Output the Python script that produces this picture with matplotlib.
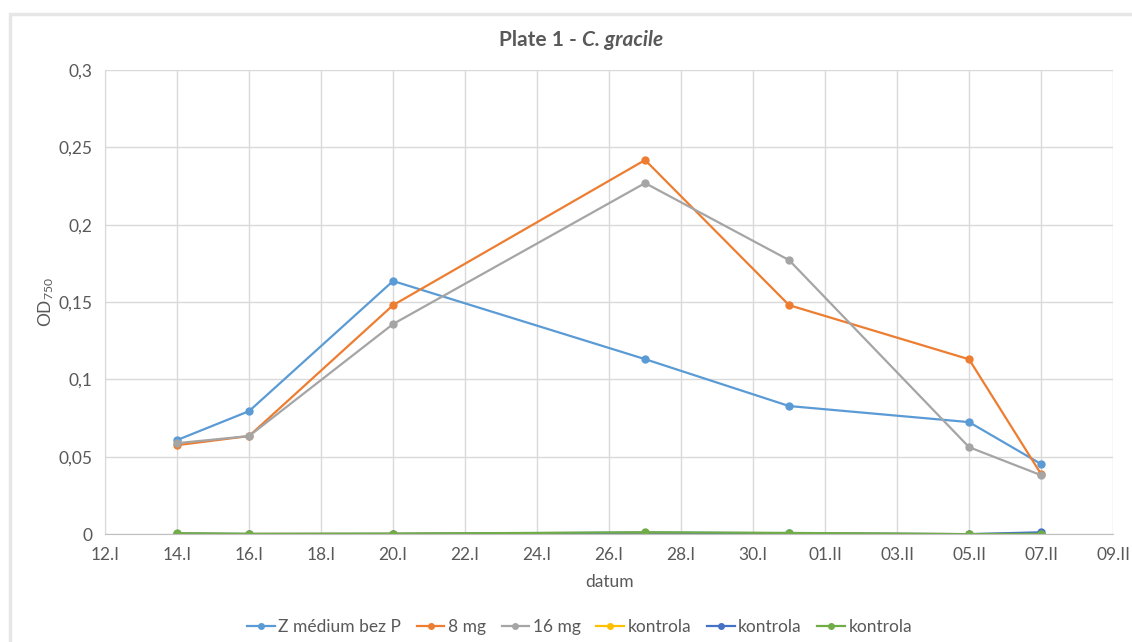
import matplotlib
matplotlib.use('Agg')
import matplotlib.pyplot as plt
from matplotlib.patches import Rectangle
from matplotlib.ticker import FuncFormatter, MultipleLocator

plt.rcParams['font.family'] = ['Lato', 'DejaVu Sans']

# days counted from 12.I
days = [2, 4, 8, 15, 19, 24, 26]
tick_days = list(range(0, 29, 2))
tick_labels = ['12.I', '14.I', '16.I', '18.I', '20.I', '22.I', '24.I', '26.I',
               '28.I', '30.I', '01.II', '03.II', '05.II', '07.II', '09.II']

z_medium = [0.0608, 0.0795, 0.1636, 0.1131, 0.0828, 0.0724, 0.0453]
mg8 = [0.0575, 0.0634, 0.1480, 0.2418, 0.1480, 0.1130, 0.0388]
mg16 = [0.0588, 0.0634, 0.1358, 0.2269, 0.1771, 0.0562, 0.0381]
kontrola_y = [0.0002, 0.0001, 0.0002, 0.0008, 0.0004, 0.0000, 0.0003]
kontrola_b = [0.0004, 0.0001, 0.0002, 0.0010, 0.0006, 0.0000, 0.0012]
kontrola_g = [0.0006, 0.0002, 0.0003, 0.0012, 0.0008, 0.0000, 0.0002]

series = [
    ('Z médium bez P', z_medium, '#5B9BD5'),
    ('8 mg', mg8, '#ED7D31'),
    ('16 mg', mg16, '#A5A5A5'),
    ('kontrola', kontrola_y, '#FFC000'),
    ('kontrola', kontrola_b, '#4472C4'),
    ('kontrola', kontrola_g, '#70AD47'),
]

fig = plt.figure(figsize=(11.32, 6.42), dpi=100)
ax = fig.add_axes([0.0928, 0.168, 0.8905, 0.723])

for name, vals, col in series:
    ax.plot(days, vals, color=col, lw=1.6, marker='o', ms=5, label=name)

ax.set_xlim(0, 28)
ax.set_ylim(0, 0.3)
ax.set_xticks(tick_days)
ax.set_xticklabels(tick_labels)
ax.yaxis.set_major_locator(MultipleLocator(0.05))
ax.yaxis.set_major_formatter(FuncFormatter(lambda v, p: ('%g' % round(v, 3)).replace('.', ',')))
ax.grid(True, color='#D9D9D9', lw=1)
ax.set_axisbelow(True)
for s in ['top', 'right']:
    ax.spines[s].set_visible(False)
ax.spines['left'].set_color('#D9D9D9')
ax.spines['bottom'].set_color('#BFBFBF')
ax.tick_params(length=0, labelsize=12.5, colors='#595959', pad=9)

ax.set_xlabel('datum', fontsize=12.5, color='#595959', labelpad=8)
ax.set_ylabel(r'$\mathregular{OD_{750}}$', fontsize=12.5, color='#595959', labelpad=2)

# title: bold part + bold italic part
t1 = fig.text(0.0, 0.937, 'Plate 1 - ', fontsize=15, fontweight='bold', color='#595959', va='center')
t2 = fig.text(0.0, 0.937, 'C. gracile', fontsize=15, fontweight='bold', style='italic', color='#595959', va='center')
fig.canvas.draw()
r = fig.canvas.get_renderer()
w1 = t1.get_window_extent(r).width / fig.bbox.width
w2 = t2.get_window_extent(r).width / fig.bbox.width
x0 = 0.513 - (w1 + w2) / 2
t1.set_x(x0)
t2.set_x(x0 + w1)

fig.legend(loc='center', bbox_to_anchor=(0.512, 0.024), ncol=6, frameon=False,
           fontsize=12.5, labelcolor='#595959', handlelength=1.6, handletextpad=0.2,
           columnspacing=0.9, markerscale=0.8)

# chart frame (only top/left edges inside the image)
fig.patches.append(Rectangle((0.009, -0.02), 1.0, 0.998, transform=fig.transFigure,
                             fill=False, edgecolor='#E6E6E6', lw=2.5))

fig.savefig('out.png', dpi=100, facecolor='white')
